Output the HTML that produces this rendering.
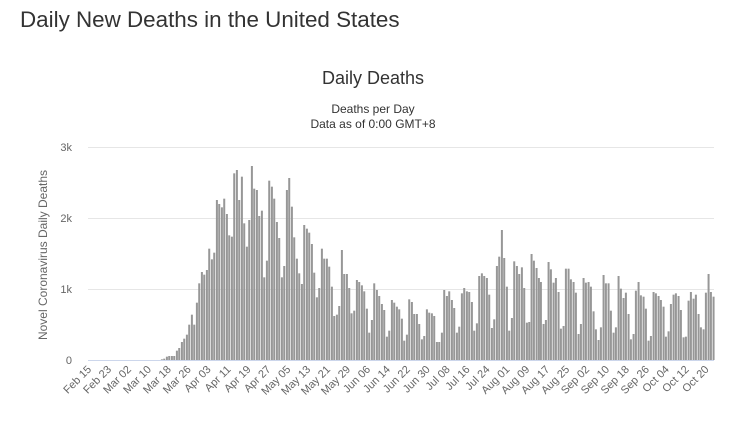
<!DOCTYPE html>
<html><head><meta charset="utf-8"><style>
body{margin:0;background:#fff;width:747px;height:416px;overflow:hidden;font-family:"Liberation Sans",sans-serif}
</style></head><body>
<svg id="s" width="747" height="416" xmlns="http://www.w3.org/2000/svg" font-family="Liberation Sans, sans-serif">
<text x="20" y="27" font-size="22.4" fill="#333">Daily New Deaths in the United States</text>
<text x="373" y="84" font-size="18" fill="#333" text-anchor="middle">Daily Deaths</text>
<text x="373" y="113" font-size="12" fill="#333" text-anchor="middle">Deaths per Day</text>
<text x="373" y="128" font-size="12" fill="#333" text-anchor="middle">Data as of 0:00 GMT+8</text>
<g stroke="#e6e6e6" stroke-width="1">
<line x1="88" x2="714" y1="147.5" y2="147.5"/><line x1="88" x2="714" y1="218.5" y2="218.5"/><line x1="88" x2="714" y1="289.5" y2="289.5"/>
</g>
<g font-size="11" fill="#666" text-anchor="end">
<text x="72" y="151">3k</text><text x="72" y="222">2k</text><text x="72" y="293">1k</text><text x="72" y="364">0</text>
</g>
<text transform="translate(47,255) rotate(-90)" font-size="12" fill="#666" text-anchor="middle">Novel Coronavirus Daily Deaths</text>
<g id="bars" fill="#979797"></g>
<line x1="88" x2="714" y1="360.5" y2="360.5" stroke="#ccd6eb"/>
<g id="xl" font-size="11" fill="#666" text-anchor="end"></g>
</svg>
<script>
var segs=[
[150,0,[36,658,43,656,51,650,58,648,66,648,73,648,81,632,88,624,96,606,103,596,111,584,118,554,126,524,133,554,141,488,148,430,156,396,163,404,171,390,178,326,186,358,193,338,201,180,208,192,216,202,223,176,231,222,238,286,246,290,253,100,261,90,268,180,276,110,283,250,291,320,298,240,306,78,313,146,321,150,328,228,336,212,343,412,351,362,358,122,366,140,373,176,381,246,388,294,396,412,403,378,411,150,418,114,426,200,433,292,441,356,448,400,456,432,463,255,471,266,478,278,486,312,493,398,501,472,508,444,516,326,523,356,531,356,538,380,546,440,553,528,561,524,568,498,576,330,583,402,591,402,598,444]],
[340,4,[5,330,13,402,20,402,28,444,35,520,43,512,51,420,58,426,66,436,73,454,81,506,88,578,96,540,103,430,111,450,118,468,126,492,133,510,141,590,148,572,156,480,163,488,171,500,178,508,186,536,193,602,201,584,208,478,216,486,223,522,231,522,238,552,246,598,253,588,261,508,268,518,276,520,283,528,291,606,298,606,306,578,313,450,321,468,328,454,336,480,343,504,351,578,358,560,366,460,373,444,381,454,388,456,396,486,403,572,411,550,418,408,426,400,433,408,441,414,448,464,456,564,463,538,471,378,478,350,486,270,493,354,501,440,508,572,516,534,523,364,531,378,538,402,546,382,553,444,561,548,568,546]],
[525,2,[5,548,12,546,20,342,27,362,35,384,42,414,48,426,56,552,63,540,71,366,78,388,86,428,93,414,101,456,108,566,116,558,123,386,131,386,138,418,146,426,153,458,161,582,168,552,176,414,183,428,191,426,198,440,206,514,213,568,221,600,228,562,236,405,243,430,251,430,258,512,266,578,273,562,281,408,288,446,296,474,303,458,311,522,318,598,326,582,333,452,341,426,348,466,356,470,363,506,371,602,378,588,386,456,393,460,401,468,408,480,416,500,423,590,431,574,438,492,446,464,453,460,461,468,468,510,476,592,483,590,491,482,498,456,506,476,513,464,521,522,528,562,536,568,543,458,551,402,558,456,566,470]]];
var g=document.getElementById('bars'),h='';
segs.forEach(function(s){var a=s[2];for(var i=s[1]*2;i<a.length;i+=2){var x=s[0]+a[i]/3-1.1,y=140+a[i+1]/3;h+='<rect x="'+x.toFixed(2)+'" y="'+y.toFixed(2)+'" width="2" height="'+(360-y).toFixed(2)+'"/>';}});
g.innerHTML=h;
var L=["Feb 15","Feb 23","Mar 02","Mar 10","Mar 18","Mar 26","Apr 03","Apr 11","Apr 19","Apr 27","May 05","May 13","May 21","May 29","Jun 06","Jun 14","Jun 22","Jun 30","Jul 08","Jul 16","Jul 24","Aug 01","Aug 09","Aug 17","Aug 25","Sep 02","Sep 10","Sep 18","Sep 26","Oct 04","Oct 12","Oct 20"],t='';
L.forEach(function(l,i){var x=92+2.49*8*i;t+='<text transform="translate('+x.toFixed(1)+',370) rotate(-45)">'+l+'</text>';});
document.getElementById('xl').innerHTML=t;
</script>
</body></html>
